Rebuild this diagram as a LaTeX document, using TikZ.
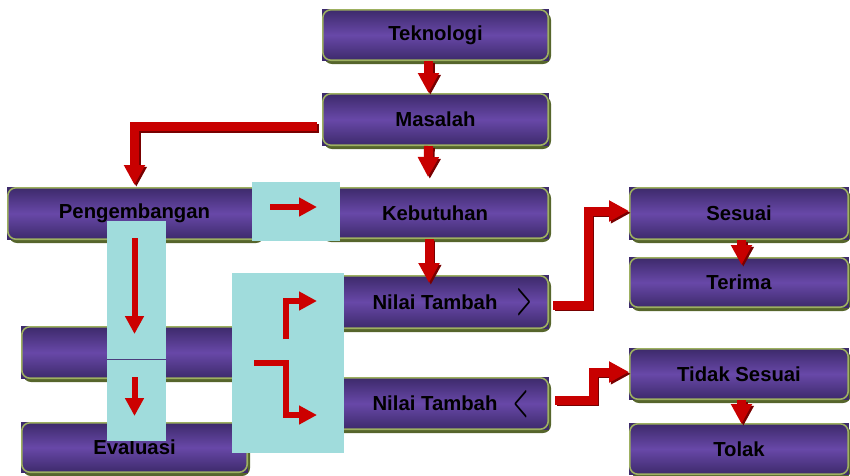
\documentclass[tikz,border=0pt]{standalone}
\usepackage{fontspec}
\usepackage{graphicx}
\setmainfont{Liberation Sans}
\usetikzlibrary{arrows.meta}
\definecolor{boxdark}{HTML}{3D2A6B}
\definecolor{boxmid}{HTML}{6848A8}
\definecolor{boxgreen}{HTML}{9DB060}
\definecolor{boxshadow}{HTML}{56652C}
\definecolor{cyanbg}{HTML}{A0DCDC}
\definecolor{arrowred}{HTML}{C80000}
\definecolor{arrowdark}{HTML}{780000}
\definecolor{thinred}{HTML}{CC0000}
\definecolor{seamline}{HTML}{4B3D7D}
\newcommand\boxfnt{\bfseries\fontsize{20.3}{22}\selectfont}
\tikzset{
  pbox/.style={rounded corners=8pt, draw=boxgreen, line width=1.6pt,
    top color=boxdark, bottom color=boxdark, middle color=boxmid,
    inner sep=0pt, font=\boxfnt, text=black},
  bigarrow/.style={line width=9pt, -{Triangle[width=20pt,length=20pt]}, line join=miter},
  thinarrow/.style={draw=thinred, line width=6pt, -{Triangle[width=18pt,length=18pt]}, line join=miter},
  cyanrect/.style={fill=cyanbg},
  chev/.style={inner sep=0pt, text=black}
}
\newcommand\pbx[6]{%
  \fill[boxshadow, rounded corners=8pt] ({#2+2},{#3+3}) rectangle ({#4+2},{#5+3});
  \fill[boxdark] (#2,#3) rectangle (#4,#5);
  \node[pbox, minimum width={#4-#2-1.6}, minimum height={#5-#3-1.6}] (#1) at ({(#2+#4)/2},{(#3+#5)/2}) {#6};
}
\newcommand\bigarr[1]{%
  \draw[bigarrow, arrowdark, transform canvas={shift={(1.8pt,-1.8pt)}}] #1;
  \draw[bigarrow, arrowred] #1;
}
\begin{document}
\begin{tikzpicture}[x=1pt,y=-1pt]
\useasboundingbox (0,0) rectangle (850,475);
% boxes
\pbx{tek}{322}{9}{549}{61}{Teknologi}
\pbx{mas}{322}{93}{549}{146}{Masalah}
\pbx{peng}{7}{187}{262}{240}{Pengembangan}
\pbx{keb}{321}{187}{549}{239}{Kebutuhan}
\pbx{nt1}{321}{275}{549}{329}{Nilai Tambah}
\pbx{nt2}{321}{377}{549}{430}{Nilai Tambah}
\pbx{blank}{21}{326}{248}{379}{}
\pbx{eva}{21}{422}{248}{473}{Evaluasi}
\pbx{ses}{629}{187}{849}{240}{Sesuai}
\pbx{ter}{629}{257}{849}{308}{Terima}
\pbx{tid}{629}{348}{849}{400}{Tidak Sesuai}
\pbx{tol}{629}{423}{849}{475}{Tolak}
\node[chev] (gt) at (524,302) {\resizebox{15pt}{24pt}{\boldmath$>$}};
\node[chev] (lt) at (520.5,404) {\resizebox{15pt}{24pt}{\boldmath$<$}};
% cyan overlays
\fill[cyanrect] (252,182) rectangle (340,241);
\fill[cyanrect] (107,221) rectangle (166,359);
\fill[cyanrect] (107,359) rectangle (166,441);
\fill[cyanrect] (232,273) rectangle (344,453);
\draw[seamline, line width=1pt] (107,359) -- (166,359);
% thin arrows
\coordinate (a1s) at (270,207);   \coordinate (a1e) at (317,207);
\coordinate (a2s) at (134.5,238); \coordinate (a2e) at (134.5,334);
\coordinate (a3s) at (134.5,377); \coordinate (a3e) at (134.5,416);
\coordinate (a4s) at (285.5,339); \coordinate (a4e) at (317,301);
\coordinate (a5s) at (254,362.5); \coordinate (a5m) at (285.5,415); \coordinate (a5e) at (317,415);
\draw[thinarrow] (a1s) -- (a1e);
\draw[thinarrow] (a2s) -- (a2e);
\draw[thinarrow] (a3s) -- (a3e);
\draw[thinarrow] (a4s) |- (a4e);
\draw[thinarrow] (a5s) -| (a5m) -- (a5e);
% big 3D arrows
\bigarr{([xshift=-7pt]tek.south) -- ([xshift=-7pt]mas.north)}
\bigarr{([xshift=-7pt]mas.south) -- ([xshift=-7pt,yshift=10pt]keb.north)}
\bigarr{([xshift=-6pt]keb.south) -- ([xshift=-6pt,yshift=-8pt]nt1.north)}
\bigarr{([xshift=-5pt,yshift=-7pt]mas.west) -| ([yshift=2pt]peng.north)}
\bigarr{([xshift=4pt,yshift=-3pt]nt1.east) -- ++(35,0) |- ([yshift=2.5pt]ses.west)}
\bigarr{([xshift=6pt,yshift=3.5pt]nt2.east) -- ++(38,0) |- ([yshift=2pt]tid.west)}
\bigarr{([xshift=2.5pt]ses.south) -- ([xshift=2.5pt,yshift=-8pt]ter.north)}
\bigarr{([xshift=2.5pt]tid.south) -- ([xshift=2.5pt,yshift=-1pt]tol.north)}
\end{tikzpicture}
\end{document}
